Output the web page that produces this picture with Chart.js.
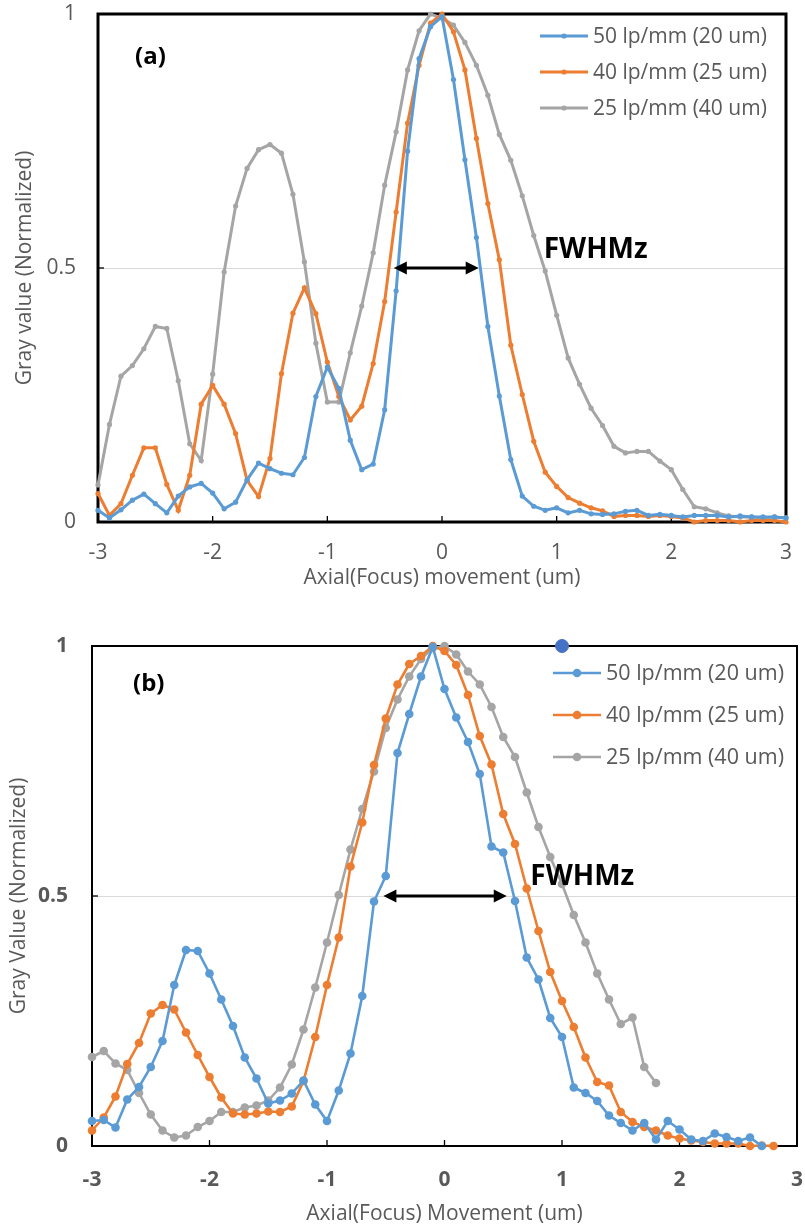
<!DOCTYPE html>
<html><head><meta charset="utf-8">
<script src="https://cdn.jsdelivr.net/npm/chart.js@4.4.1/dist/chart.umd.min.js"></script>
<style>
html,body{margin:0;padding:0;background:#fff;}
#wrapA{position:absolute;left:0;top:0;width:805px;height:600px;}
#wrapB{position:absolute;left:0;top:600px;width:805px;height:627px;}
</style></head><body>
<div id="wrapA"><canvas id="chartA" width="805" height="600"></canvas></div>
<div id="wrapB"><canvas id="chartB" width="805" height="627"></canvas></div>
<script>
// ---------- data ----------
const seriesLabels = ["50 lp/mm (20 um)", "40 lp/mm (25 um)", "25 lp/mm (40 um)"];
const seriesColors = ["#5B9BD5", "#ED7D31", "#A5A5A5"];
const xTickValues = [-3, -2, -1, 0, 1, 2, 3];
const yTickValues = [0, 0.5, 1];

// chart (a)
const xA = [-3.0,-2.9,-2.8,-2.7,-2.6,-2.5,-2.4,-2.3,-2.2,-2.1,-2.0,-1.9,-1.8,-1.7,-1.6,-1.5,-1.4,-1.3,-1.2,-1.1,-1.0,-0.9,-0.8,-0.7,-0.6,-0.5,-0.4,-0.3,-0.2,-0.1,0.0,0.1,0.2,0.3,0.4,0.5,0.6,0.7,0.8,0.9,1.0,1.1,1.2,1.3,1.4,1.5,1.6,1.7,1.8,1.9,2.0,2.1,2.2,2.3,2.4,2.5,2.6,2.7,2.8,2.9,3.0];
const blueA = [0.023,0.008,0.024,0.043,0.055,0.036,0.018,0.051,0.069,0.076,0.057,0.026,0.039,0.083,0.116,0.105,0.096,0.093,0.127,0.247,0.305,0.263,0.161,0.103,0.114,0.221,0.455,0.730,0.912,0.975,0.995,0.871,0.713,0.560,0.385,0.248,0.123,0.051,0.031,0.023,0.028,0.018,0.023,0.016,0.015,0.016,0.021,0.023,0.013,0.015,0.013,0.010,0.013,0.013,0.013,0.010,0.012,0.010,0.010,0.010,0.008];
const orangeA = [0.056,0.013,0.036,0.092,0.146,0.146,0.074,0.023,0.092,0.232,0.269,0.232,0.174,0.082,0.050,0.125,0.292,0.411,0.461,0.410,0.315,0.247,0.201,0.228,0.312,0.434,0.610,0.785,0.899,0.982,1.000,0.965,0.890,0.755,0.627,0.516,0.348,0.251,0.159,0.098,0.070,0.048,0.037,0.028,0.022,0.011,0.013,0.013,0.011,0.013,0.011,0.008,0.000,0.003,0.003,0.003,0.000,0.003,0.003,0.003,0.000];
const grayA = [0.073,0.192,0.287,0.308,0.341,0.385,0.381,0.278,0.154,0.121,0.291,0.492,0.622,0.696,0.733,0.743,0.726,0.645,0.512,0.352,0.236,0.236,0.333,0.425,0.530,0.663,0.768,0.890,0.967,1.000,0.992,0.978,0.944,0.899,0.840,0.763,0.712,0.642,0.564,0.494,0.407,0.323,0.271,0.224,0.190,0.149,0.136,0.139,0.139,0.120,0.103,0.064,0.030,0.026,0.018,0.012,0.010,0.010,0.008,0.010,0.008];
const fwhmA = [-0.42, 0.32];

// chart (b)
const xB = [-3.0,-2.9,-2.8,-2.7,-2.6,-2.5,-2.4,-2.3,-2.2,-2.1,-2.0,-1.9,-1.8,-1.7,-1.6,-1.5,-1.4,-1.3,-1.2,-1.1,-1.0,-0.9,-0.8,-0.7,-0.6,-0.5,-0.4,-0.3,-0.2,-0.1,0.0,0.1,0.2,0.3,0.4,0.5,0.6,0.7,0.8,0.9,1.0,1.1,1.2,1.3,1.4,1.5,1.6,1.7,1.8,1.9,2.0,2.1,2.2,2.3,2.4,2.5,2.6,2.7,2.8];
const blueB = [0.050,0.052,0.037,0.093,0.118,0.158,0.210,0.322,0.392,0.390,0.345,0.293,0.240,0.177,0.135,0.085,0.091,0.105,0.131,0.083,0.050,0.111,0.185,0.300,0.489,0.540,0.786,0.864,0.939,0.998,0.914,0.857,0.808,0.744,0.599,0.587,0.490,0.377,0.333,0.256,0.218,0.117,0.106,0.090,0.061,0.046,0.031,0.046,0.013,0.050,0.033,0.013,0.010,0.025,0.018,0.010,0.017,0.000];
const orangeB = [0.031,0.057,0.099,0.164,0.206,0.265,0.282,0.273,0.227,0.182,0.138,0.097,0.065,0.063,0.065,0.069,0.068,0.079,0.130,0.218,0.322,0.417,0.559,0.647,0.762,0.855,0.923,0.964,0.980,1.000,0.990,0.962,0.902,0.820,0.763,0.664,0.604,0.515,0.430,0.348,0.290,0.238,0.177,0.128,0.121,0.068,0.048,0.038,0.031,0.021,0.015,0.011,0.008,0.005,0.005,0.005,0.000,0.001,0.000];
const grayB = [0.178,0.190,0.165,0.152,0.106,0.063,0.031,0.017,0.021,0.038,0.050,0.068,0.068,0.077,0.081,0.091,0.117,0.163,0.233,0.317,0.407,0.502,0.593,0.674,0.749,0.836,0.893,0.939,0.974,0.996,1.000,0.983,0.949,0.923,0.878,0.818,0.778,0.707,0.638,0.578,0.524,0.462,0.407,0.345,0.293,0.244,0.257,0.158,0.126];
const strayX = [1.0];
const strayY = [1.0];
const fwhmB = [-0.52, 0.53];

// ---------- helpers ----------
const FONT = "'Open Sans', 'Noto Sans', sans-serif";
const toPts = (xs, ys) => ys.map((v, i) => ({x: xs[i], y: v}));

function makeDatasets(xs, seriesList, lw, pr) {
  return seriesList.map((ys, i) => ({
    label: seriesLabels[i],
    data: toPts(xs, ys),
    borderColor: seriesColors[i],
    backgroundColor: seriesColors[i],
    pointBackgroundColor: seriesColors[i],
    pointBorderColor: seriesColors[i],
    pointRadius: pr,
    pointBorderWidth: 0,
    borderWidth: lw,
    tension: 0,
    clip: false
  }));
}

const framePlugin = {
  id: 'frame',
  beforeDatasetsDraw(chart, args, o) {
    const {ctx, chartArea: {left, top, right, bottom}, scales: {x, y}} = chart;
    ctx.save();
    ctx.strokeStyle = '#000';
    ctx.lineWidth = o.borderWidth;
    ctx.strokeRect(left, top, right - left, bottom - top);
    ctx.lineWidth = 1.3;
    xTickValues.forEach(v => {
      const px = x.getPixelForValue(v);
      ctx.beginPath(); ctx.moveTo(px, bottom); ctx.lineTo(px, bottom - 6); ctx.stroke();
    });
    const py = y.getPixelForValue(0.5);
    ctx.beginPath(); ctx.moveTo(left, py); ctx.lineTo(left + 6, py); ctx.stroke();
    ctx.restore();
  },
  afterDatasetsDraw(chart, args, o) {
    const {ctx, chartArea: {left, top}, scales: {x, y}} = chart;
    ctx.save();
    // FWHM arrow
    const ay = y.getPixelForValue(0.5);
    const x1 = x.getPixelForValue(o.fwhm[0]);
    const x2 = x.getPixelForValue(o.fwhm[1]);
    ctx.strokeStyle = '#000'; ctx.fillStyle = '#000'; ctx.lineWidth = 3;
    ctx.beginPath(); ctx.moveTo(x1 + 10, ay); ctx.lineTo(x2 - 10, ay); ctx.stroke();
    const hl = 13, hw = 6.5;
    ctx.beginPath(); ctx.moveTo(x1, ay); ctx.lineTo(x1 + hl, ay - hw); ctx.lineTo(x1 + hl, ay + hw); ctx.closePath(); ctx.fill();
    ctx.beginPath(); ctx.moveTo(x2, ay); ctx.lineTo(x2 - hl, ay - hw); ctx.lineTo(x2 - hl, ay + hw); ctx.closePath(); ctx.fill();
    // FWHMz label
    ctx.font = "bold 28px " + FONT;
    ctx.textBaseline = 'alphabetic'; ctx.textAlign = 'left';
    ctx.fillText('FWHMz', x.getPixelForValue(o.fwhmText[0]), y.getPixelForValue(o.fwhmText[1]));
    // panel letter
    ctx.font = "bold 24px " + FONT;
    ctx.textBaseline = 'middle';
    ctx.fillText(o.panel, left + o.panelOffset[0], top + o.panelOffset[1]);
    // legend
    ctx.font = o.legend.font + "px " + FONT;
    ctx.textBaseline = 'middle';
    for (let i = 0; i < 3; i++) {
      const ly = o.legend.y + i * o.legend.gap;
      ctx.strokeStyle = seriesColors[i]; ctx.fillStyle = seriesColors[i];
      ctx.lineWidth = o.legend.lw;
      ctx.beginPath(); ctx.moveTo(o.legend.x, ly); ctx.lineTo(o.legend.x + 48, ly); ctx.stroke();
      ctx.beginPath(); ctx.arc(o.legend.x + 24, ly, o.legend.r, 0, Math.PI * 2); ctx.fill();
      ctx.fillStyle = '#595959';
      ctx.fillText(seriesLabels[i], o.legend.x + 53, ly + 1);
    }
    ctx.restore();
  }
};

function scalesConfig(xTitle, yTitle, bold, cfg) {
  const tickFont = {family: FONT, size: 21, weight: bold ? 'bold' : 'normal'};
  const fmt = v => String(Math.round(v * 10) / 10);
  return {
    x: {
      type: 'linear', min: -3, max: 3,
      afterBuildTicks: s => { s.ticks = xTickValues.map(v => ({value: v})); },
      ticks: {font: tickFont, color: '#595959', padding: cfg.xTickPad, maxRotation: 0, autoSkip: false, callback: fmt},
      grid: {display: false, drawTicks: false},
      border: {display: false},
      title: {display: true, text: xTitle, color: '#595959', font: {family: FONT, size: 21}, padding: {top: 0, bottom: cfg.xTitlePad}},
      afterFit: s => { s.height = cfg.xHeight; s.paddingLeft = 0; s.paddingRight = 0; }
    },
    y: {
      type: 'linear', min: 0, max: 1,
      afterBuildTicks: s => { s.ticks = yTickValues.map(v => ({value: v})); },
      ticks: {font: tickFont, color: '#595959', padding: cfg.yTickPad, callback: fmt},
      grid: {color: '#d9d9d9', lineWidth: 1, drawTicks: false},
      border: {display: false},
      title: {display: true, text: yTitle, color: '#595959', font: {family: FONT, size: 21}, padding: {top: cfg.yTitlePad, bottom: 0}},
      afterFit: s => { s.width = cfg.yWidth; s.paddingTop = 0; s.paddingBottom = 0; }
    }
  };
}

// ---------- chart (a) ----------
new Chart(document.getElementById('chartA'), {
  type: 'line',
  data: {datasets: makeDatasets(xA, [blueA, orangeA, grayA], 3, 2.6)},
  options: {
    responsive: false, animation: false,
    layout: {padding: {left: 0, right: 19, top: 14, bottom: 0}},
    plugins: {
      legend: {display: false}, tooltip: {enabled: false},
      frame: {borderWidth: 3, fwhm: fwhmA, fwhmText: [0.887, 0.519], panel: '(a)', panelOffset: [37, 43],
              legend: {x: 540, y: 36, gap: 36, lw: 3, r: 2.6, font: 21}}
    },
    scales: scalesConfig('Axial(Focus) movement (um)', 'Gray value (Normalized)', false,
      {xTickPad: 18, xTitlePad: 9, xHeight: 78, yTickPad: 22, yTitlePad: 12, yWidth: 98})
  },
  plugins: [framePlugin]
});

// ---------- chart (b) ----------
const dsB = makeDatasets(xB, [blueB, orangeB, grayB], 2.6, 4.3);
dsB.push({label: 'marker', data: toPts(strayX, strayY), showLine: false, pointRadius: 6.5,
  pointBackgroundColor: '#4472C4', pointBorderColor: '#4472C4', borderColor: '#4472C4', clip: false});
new Chart(document.getElementById('chartB'), {
  type: 'line',
  data: {datasets: dsB},
  options: {
    responsive: false, animation: false,
    layout: {padding: {left: 0, right: 8, top: 46, bottom: 0}},
    plugins: {
      legend: {display: false}, tooltip: {enabled: false},
      frame: {borderWidth: 2, fwhm: fwhmB, fwhmText: [0.73, 0.522], panel: '(b)', panelOffset: [41, 38],
              legend: {x: 553, y: 73, gap: 42, lw: 2.6, r: 4.3, font: 21.5}}
    },
    scales: scalesConfig('Axial(Focus) Movement (um)', 'Gray Value (Normalized)', true,
      {xTickPad: 21, xTitlePad: 0, xHeight: 81, yTickPad: 24, yTitlePad: 6, yWidth: 92})
  },
  plugins: [framePlugin]
});
</script>
</body></html>
